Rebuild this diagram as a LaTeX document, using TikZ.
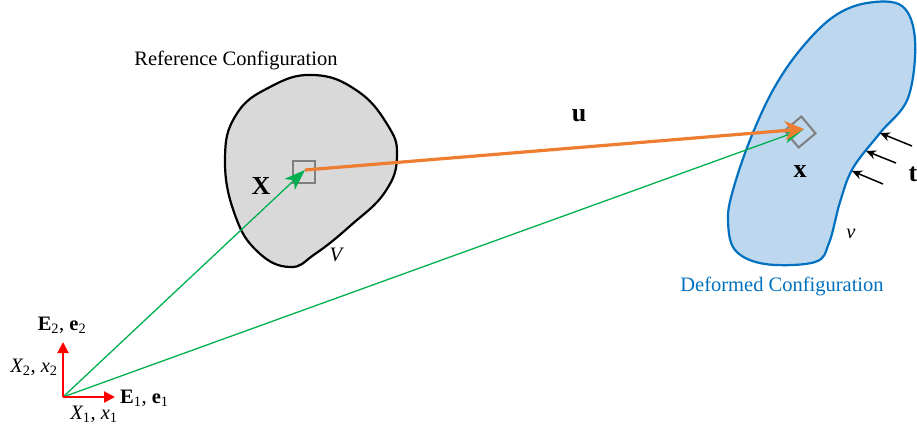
\documentclass[tikz,border=0pt]{standalone}
\usepackage{fontspec}
\setmainfont{Liberation Serif}
\usetikzlibrary{arrows.meta}

\definecolor{bodygray}{HTML}{D9D9D9}
\definecolor{bodyblue}{HTML}{BDD7EE}
\definecolor{lineblue}{HTML}{0070C0}
\definecolor{dispor}{HTML}{ED7D31}
\definecolor{posgreen}{HTML}{00B050}
\definecolor{elemgray}{HTML}{7F7F7F}

\tikzset{
    lbl/.style={font=\fontsize{20.5}{24}\selectfont, inner sep=1pt},
    vec/.style={font=\bfseries\fontsize{26}{30}\selectfont, inner sep=1pt},
    elem/.style={draw=elemgray, line width=2pt, minimum size=22pt, inner sep=0pt},
    axis/.style={red, line width=2.2pt, -{Triangle[length=11pt,width=11pt]}},
    posvec/.style={posgreen, line width=1.3pt, -{Stealth[length=21pt,width=15pt,inset=6pt]}},
    dispvec/.style={dispor, line width=3.2pt, -{Stealth[length=19pt,width=19pt,inset=6pt]}},
    trac/.style={black, line width=1.5pt, -{Stealth[length=10pt,width=9pt]}}
}

\begin{document}
\begin{tikzpicture}[x=1pt,y=-1pt]
    \useasboundingbox (0,0) rectangle (917,431);

    % bodies
    \draw[fill=bodygray, line width=2.2pt] plot[smooth cycle, tension=0.75] coordinates {
        (225,160) (236,115) (270,87) (313,75) (356,90) (387,124) (397,156) (385,192)
        (350,226) (315,254) (290,267) (258,252) (235,215)};
    \draw[fill=bodyblue, draw=lineblue, line width=2.2pt] plot[smooth cycle, tension=0.6] coordinates {
        (867,3) (902,6) (915,40) (908,98) (880,133) (853,168) (840,202) (829,243)
        (815,262) (765,264) (735,250) (728,220) (733,190) (750,140) (773,90) (800,50) (833,17)};

    % material points
    \node[elem] (sqR) at (304,172) {};
    \node[elem, rotate=40] (sqD) at (800,132) {};

    \coordinate (O) at (63,397);
    \coordinate (P) at (305,170);
    \coordinate (p) at (804,129);
    \coordinate (E1) at (115,397);
    \coordinate (E2) at (63,342);

    % vectors
    \draw[posvec] (O) -- (P);
    \draw[posvec] (O) -- (p);
    \draw[dispvec] (P) -- (p);
    \draw[axis] (O) -- (E1);
    \draw[axis] (O) -- (E2);

    % traction
    \foreach \i/\hx/\hy/\tx/\ty in {1/880/133/912/146, 2/866/151/896/163, 3/852/171/883/184} {
        \coordinate (tt\i) at (\tx,\ty);
        \coordinate (th\i) at (\hx,\hy);
        \draw[trac] (tt\i) -- (th\i);
    }

    % labels
    \node[lbl] (refname) at (236,60) {Reference Configuration};
    \node[lbl, lineblue] (defname) at (782,286) {Deformed Configuration};
    \node[lbl] (Vlbl) at (336,255) {\itshape V};
    \node[lbl] (vlbl) at (851,234) {\itshape v};
    \node[vec] (Xlbl) at (261,186) {X};
    \node[vec] (xlbl) at (800,172) {x};
    \node[vec] (ulbl) at (579,116) {u};
    \node[vec] (tlbl) at (913,174) {t};
    \node[lbl, anchor=west] (E1lbl) at (119,398) {\textbf{E}\textsubscript{1}, \textbf{e}\textsubscript{1}};
    \node[lbl] (E2lbl) at (62,325) {\textbf{E}\textsubscript{2}, \textbf{e}\textsubscript{2}};
    \node[lbl] (X2lbl) at (34,367) {{\itshape X}\textsubscript{2}, {\itshape x}\textsubscript{2}};
    \node[lbl] (X1lbl) at (94,414) {{\itshape X}\textsubscript{1}, {\itshape x}\textsubscript{1}};
\end{tikzpicture}
\end{document}
